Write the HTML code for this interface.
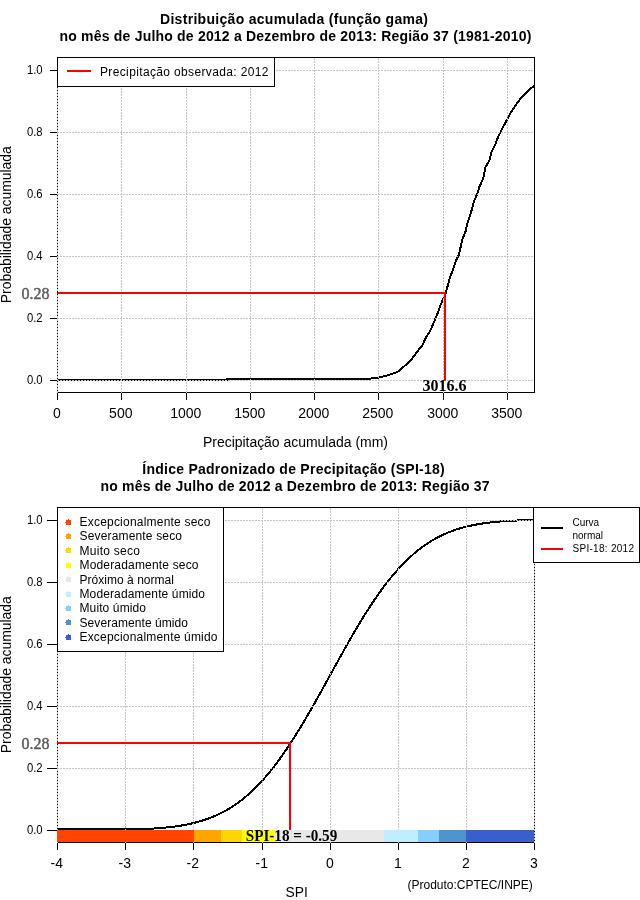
<!DOCTYPE html>
<html lang="pt"><head><meta charset="utf-8"><title>SPI-18</title>
<style>
html,body{margin:0;padding:0;background:#fff;}
svg{display:block;}
text{font-family:"Liberation Sans",sans-serif;fill:#000;}
.b{font-weight:bold;}
.s{font-family:"Liberation Serif",serif;font-weight:bold;}
.ln{shape-rendering:crispEdges;fill:none;}
</style></head><body>
<svg width="640" height="900" viewBox="0 0 640 900">
<rect x="0" y="0" width="640" height="900" fill="#fff"/>
<polyline class="ln" points="57.0,380.0 227.0,380.0 227.0,379.0 360.0,379.0 371.2,378.5 378.5,377.5 386.9,375.6 397.5,371.9 403.1,367.2 410.0,361.2 415.6,353.8 422.5,345.0 426.2,336.9 430.0,331.2 435.0,319.7 438.5,311.2 439.4,308.1 443.1,298.8 445.9,292.5 450.0,277.5 453.5,268.1 456.2,260.0 459.0,254.8 460.2,248.8 462.2,240.0 465.6,231.2 466.9,225.0 470.6,213.8 473.8,201.9 477.2,194.1 479.4,186.9 483.1,178.8 485.6,166.9 489.8,159.7 491.2,152.5 495.6,143.8 498.1,136.9 500.6,131.9 503.1,126.9 507.5,118.8 510.0,113.8 515.0,106.2 521.9,96.9 527.5,91.2 534.4,85.6" stroke="#000" stroke-width="2" stroke-linejoin="round"/>
<rect class="ln" x="57.5" y="57.5" width="477" height="335" stroke="#000" stroke-width="1"/>
<path class="ln" d="M57.5,392v8M121.5,392v8M186.5,392v8M250.5,392v8M314.5,392v8M378.5,392v8M443.5,392v8M507.5,392v8" stroke="#000" stroke-width="1"/>
<path class="ln" d="M50,380.5H58M50,318.5H58M50,256.5H58M50,194.5H58M50,132.5H58M50,70.5H58" stroke="#000" stroke-width="1"/>
<path class="ln" d="M57.5,393V58M121.5,393V58M186.5,393V58M250.5,393V58M314.5,393V58M378.5,393V58M443.5,393V58M507.5,393V58M57,380.5H534M57,318.5H534M57,256.5H534M57,194.5H534M57,132.5H534M57,70.5H534" stroke="#c4c4c4" stroke-width="1" stroke-dasharray="2 1"/>
<text x="56.8" y="417.5" font-size="14" text-anchor="middle">0</text>
<text x="120.8" y="417.5" font-size="14" text-anchor="middle">500</text>
<text x="185.8" y="417.5" font-size="14" text-anchor="middle">1000</text>
<text x="249.8" y="417.5" font-size="14" text-anchor="middle">1500</text>
<text x="313.8" y="417.5" font-size="14" text-anchor="middle">2000</text>
<text x="377.8" y="417.5" font-size="14" text-anchor="middle">2500</text>
<text x="442.8" y="417.5" font-size="14" text-anchor="middle">3000</text>
<text x="506.8" y="417.5" font-size="14" text-anchor="middle">3500</text>
<text x="42.6" y="383.5" font-size="12" text-anchor="end" textLength="15.7" lengthAdjust="spacingAndGlyphs">0.0</text>
<text x="42.6" y="321.5" font-size="12" text-anchor="end" textLength="15.7" lengthAdjust="spacingAndGlyphs">0.2</text>
<text x="42.6" y="259.5" font-size="12" text-anchor="end" textLength="15.7" lengthAdjust="spacingAndGlyphs">0.4</text>
<text x="42.6" y="197.5" font-size="12" text-anchor="end" textLength="15.7" lengthAdjust="spacingAndGlyphs">0.6</text>
<text x="42.6" y="135.5" font-size="12" text-anchor="end" textLength="15.7" lengthAdjust="spacingAndGlyphs">0.8</text>
<text x="42.6" y="73.5" font-size="12" text-anchor="end" textLength="15.7" lengthAdjust="spacingAndGlyphs">1.0</text>
<text transform="translate(11,224.7) rotate(-90)" font-size="14" text-anchor="middle" textLength="157" lengthAdjust="spacingAndGlyphs">Probabilidade acumulada</text>
<path class="ln" d="M57,293H446M445,292V381" stroke="#f00" stroke-width="2"/>
<text class="s" x="49.5" y="299" font-size="16" text-anchor="end" textLength="28" lengthAdjust="spacingAndGlyphs" style="fill:#5a5a5a;font-weight:normal;stroke:#5a5a5a;stroke-width:0.45">0.28</text>
<text class="s" x="444.5" y="391" font-size="16" text-anchor="middle" textLength="44" lengthAdjust="spacingAndGlyphs">3016.6</text>
<rect class="ln" x="57.5" y="57.5" width="217" height="29" style="fill:#fff" stroke="#000"/>
<path class="ln" d="M67,71H91" stroke="#f00" stroke-width="2"/>
<text x="100" y="76" font-size="12" textLength="168.5" lengthAdjust="spacing">Precipitação observada: 2012</text>
<text class="b" x="294" y="24" font-size="14" text-anchor="middle" textLength="268" lengthAdjust="spacing">Distribuição acumulada (função gama)</text>
<text class="b" x="295.5" y="41" font-size="14" text-anchor="middle" textLength="472" lengthAdjust="spacing">no mês de Julho de 2012 a Dezembro de 2013: Região 37 (1981-2010)</text>
<text x="295.5" y="447" font-size="14" text-anchor="middle" textLength="185" lengthAdjust="spacing">Precipitação acumulada (mm)</text>
<polyline class="ln" points="57.0,829.0 58.0,829.0 59.0,829.0 60.0,829.0 61.0,829.0 62.0,829.0 63.0,829.0 64.0,829.0 65.0,829.0 66.0,829.0 67.0,829.0 68.0,829.0 69.0,829.0 70.0,829.0 71.0,829.0 72.0,829.0 73.0,829.0 74.0,829.0 75.0,829.0 76.0,829.0 77.0,829.0 78.0,829.0 79.0,829.0 80.0,829.0 81.0,829.0 82.0,829.0 83.0,829.0 84.0,829.0 85.0,829.0 86.0,829.0 87.0,829.0 88.0,829.0 89.0,829.0 90.0,829.0 91.0,829.0 92.0,829.0 93.0,829.0 94.0,829.0 95.0,829.0 96.0,829.0 97.0,829.0 98.0,829.0 99.0,829.0 100.0,829.0 101.0,829.0 102.0,829.0 103.0,829.0 104.0,829.0 105.0,829.0 106.0,829.0 107.0,829.0 108.0,829.0 109.0,829.0 110.0,829.0 111.0,829.0 112.0,829.0 113.0,829.0 114.0,829.0 115.0,829.0 116.0,829.0 117.0,829.0 118.0,829.0 119.0,829.0 120.0,829.0 121.0,829.0 122.0,829.0 123.0,829.0 124.0,829.0 125.0,829.0 126.0,829.0 127.0,829.0 128.0,829.0 129.0,829.0 130.0,829.0 131.0,829.0 132.0,829.0 133.0,829.0 134.0,829.0 135.0,829.0 136.0,829.0 137.0,829.0 138.0,829.0 139.0,829.0 140.0,829.0 141.0,829.0 142.0,829.0 143.0,829.0 144.0,829.0 145.0,829.0 146.0,828.9 147.0,828.9 148.0,828.8 149.0,828.8 150.0,828.7 151.0,828.7 152.0,828.6 153.0,828.6 154.0,828.5 155.0,828.4 156.0,828.4 157.0,828.3 158.0,828.2 159.0,828.1 160.0,828.1 161.0,828.0 162.0,827.9 163.0,827.8 164.0,827.7 165.0,827.6 166.0,827.5 167.0,827.4 168.0,827.3 169.0,827.2 170.0,827.1 171.0,827.0 172.0,826.9 173.0,826.7 174.0,826.6 175.0,826.5 176.0,826.3 177.0,826.2 178.0,826.0 179.0,825.9 180.0,825.7 181.0,825.6 182.0,825.4 183.0,825.2 184.0,825.1 185.0,824.9 186.0,824.7 187.0,824.5 188.0,824.3 189.0,824.1 190.0,823.9 191.0,823.6 192.0,823.4 193.0,823.2 194.0,822.9 195.0,822.7 196.0,822.4 197.0,822.2 198.0,821.9 199.0,821.6 200.0,821.3 201.0,821.0 202.0,820.7 203.0,820.4 204.0,820.1 205.0,819.7 206.0,819.4 207.0,819.1 208.0,818.7 209.0,818.3 210.0,818.0 211.0,817.6 212.0,817.2 213.0,816.8 214.0,816.3 215.0,815.9 216.0,815.5 217.0,815.0 218.0,814.6 219.0,814.1 220.0,813.6 221.0,813.1 222.0,812.6 223.0,812.1 224.0,811.5 225.0,811.0 226.0,810.4 227.0,809.9 228.0,809.3 229.0,808.7 230.0,808.1 231.0,807.5 232.0,806.8 233.0,806.2 234.0,805.5 235.0,804.8 236.0,804.2 237.0,803.4 238.0,802.7 239.0,802.0 240.0,801.2 241.0,800.5 242.0,799.7 243.0,798.9 244.0,798.1 245.0,797.3 246.0,796.5 247.0,795.6 248.0,794.7 249.0,793.8 250.0,792.9 251.0,792.0 252.0,791.1 253.0,790.2 254.0,789.2 255.0,788.2 256.0,787.2 257.0,786.2 258.0,785.2 259.0,784.1 260.0,783.1 261.0,782.0 262.0,780.9 263.0,779.8 264.0,778.7 265.0,777.5 266.0,776.4 267.0,775.2 268.0,774.0 269.0,772.8 270.0,771.6 271.0,770.4 272.0,769.1 273.0,767.8 274.0,766.6 275.0,765.3 276.0,763.9 277.0,762.6 278.0,761.3 279.0,759.9 280.0,758.5 281.0,757.1 282.0,755.7 283.0,754.3 284.0,752.9 285.0,751.4 286.0,750.0 287.0,748.5 288.0,747.0 289.0,745.5 290.0,744.0 291.0,742.4 292.0,740.9 293.0,739.3 294.0,737.8 295.0,736.2 296.0,734.6 297.0,733.0 298.0,731.4 299.0,729.7 300.0,728.1 301.0,726.5 302.0,724.8 303.0,723.1 304.0,721.4 305.0,719.8 306.0,718.1 307.0,716.3 308.0,714.6 309.0,712.9 310.0,711.2 311.0,709.4 312.0,707.7 313.0,705.9 314.0,704.2 315.0,702.4 316.0,700.6 317.0,698.8 318.0,697.1 319.0,695.3 320.0,693.5 321.0,691.7 322.0,689.9 323.0,688.1 324.0,686.3 325.0,684.4 326.0,682.6 327.0,680.8 328.0,679.0 329.0,677.2 330.0,675.4 331.0,673.6 332.0,671.7 333.0,669.9 334.0,668.1 335.0,666.3 336.0,664.5 337.0,662.7 338.0,660.9 339.0,659.1 340.0,657.3 341.0,655.5 342.0,653.7 343.0,651.9 344.0,650.1 345.0,648.3 346.0,646.6 347.0,644.8 348.0,643.0 349.0,641.3 350.0,639.5 351.0,637.8 352.0,636.1 353.0,634.3 354.0,632.6 355.0,630.9 356.0,629.2 357.0,627.5 358.0,625.9 359.0,624.2 360.0,622.5 361.0,620.9 362.0,619.2 363.0,617.6 364.0,616.0 365.0,614.4 366.0,612.8 367.0,611.2 368.0,609.7 369.0,608.1 370.0,606.6 371.0,605.0 372.0,603.5 373.0,602.0 374.0,600.5 375.0,599.1 376.0,597.6 377.0,596.2 378.0,594.7 379.0,593.3 380.0,591.9 381.0,590.5 382.0,589.2 383.0,587.8 384.0,586.5 385.0,585.1 386.0,583.8 387.0,582.5 388.0,581.3 389.0,580.0 390.0,578.7 391.0,577.5 392.0,576.3 393.0,575.1 394.0,573.9 395.0,572.8 396.0,571.6 397.0,570.5 398.0,569.3 399.0,568.2 400.0,567.2 401.0,566.1 402.0,565.0 403.0,564.0 404.0,563.0 405.0,562.0 406.0,561.0 407.0,560.0 408.0,559.0 409.0,558.1 410.0,557.2 411.0,556.3 412.0,555.4 413.0,554.5 414.0,553.6 415.0,552.8 416.0,552.0 417.0,551.1 418.0,550.3 419.0,549.5 420.0,548.8 421.0,548.0 422.0,547.3 423.0,546.5 424.0,545.8 425.0,545.1 426.0,544.4 427.0,543.8 428.0,543.1 429.0,542.5 430.0,541.8 431.0,541.2 432.0,540.6 433.0,540.0 434.0,539.4 435.0,538.9 436.0,538.3 437.0,537.8 438.0,537.3 439.0,536.7 440.0,536.2 441.0,535.7 442.0,535.3 443.0,534.8 444.0,534.3 445.0,533.9 446.0,533.4 447.0,533.0 448.0,532.6 449.0,532.2 450.0,531.8 451.0,531.4 452.0,531.0 453.0,530.7 454.0,530.3 455.0,530.0 456.0,529.6 457.0,529.3 458.0,529.0 459.0,528.7 460.0,528.4 461.0,528.1 462.0,527.8 463.0,527.5 464.0,527.3 465.0,527.0 466.0,526.7 467.0,526.5 468.0,526.3 469.0,526.0 470.0,525.8 471.0,525.6 472.0,525.4 473.0,525.2 474.0,525.0 475.0,524.8 476.0,524.6 477.0,524.4 478.0,524.2 479.0,524.0 480.0,523.9 481.0,523.7 482.0,523.6 483.0,523.4 484.0,523.3 485.0,523.1 486.0,523.0 487.0,522.9 488.0,522.7 489.0,522.6 490.0,522.5 491.0,522.4 492.0,522.3 493.0,522.1 494.0,522.0 495.0,521.9 496.0,521.8 497.0,521.8 498.0,521.7 499.0,521.6 500.0,521.5 501.0,521.4 502.0,521.3 503.0,521.3 504.0,521.2 505.0,521.1 506.0,521.1 507.0,521.0 508.0,520.9 509.0,520.9 510.0,520.8 511.0,520.8 512.0,520.7 513.0,520.6 514.0,520.6 515.0,520.6 516.0,520.5 517.0,520.5 518.0,520.4 519.0,520.4 520.0,520.3 521.0,520.3 522.0,520.3 523.0,520.2 524.0,520.2 525.0,520.2 526.0,520.1 527.0,520.1 528.0,520.1 529.0,520.1 530.0,520.0 531.0,520.0 532.0,520.0 533.0,520.0 534.0,519.9" stroke="#000" stroke-width="2" stroke-linejoin="round"/>
<rect class="ln" x="57.5" y="507.5" width="477" height="335" stroke="#000" stroke-width="1"/>
<path class="ln" d="M57.5,842v8M125.5,842v8M193.5,842v8M262.5,842v8M330.5,842v8M398.5,842v8M466.5,842v8M534.5,842v8" stroke="#000" stroke-width="1"/>
<path class="ln" d="M47,830.5H58M47,768.5H58M47,706.5H58M47,644.5H58M47,582.5H58M47,520.5H58" stroke="#000" stroke-width="1"/>
<path class="ln" d="M57.5,843V508M125.5,843V508M193.5,843V508M262.5,843V508M330.5,843V508M398.5,843V508M466.5,843V508M534.5,843V508M57,830.5H534M57,768.5H534M57,706.5H534M57,644.5H534M57,582.5H534M57,520.5H534" stroke="#c4c4c4" stroke-width="1" stroke-dasharray="2 1"/>
<text x="56.8" y="867.5" font-size="14" text-anchor="middle">-4</text>
<text x="124.8" y="867.5" font-size="14" text-anchor="middle">-3</text>
<text x="192.8" y="867.5" font-size="14" text-anchor="middle">-2</text>
<text x="261.8" y="867.5" font-size="14" text-anchor="middle">-1</text>
<text x="329.8" y="867.5" font-size="14" text-anchor="middle">0</text>
<text x="397.8" y="867.5" font-size="14" text-anchor="middle">1</text>
<text x="465.8" y="867.5" font-size="14" text-anchor="middle">2</text>
<text x="533.8" y="867.5" font-size="14" text-anchor="middle">3</text>
<text x="42.6" y="833.5" font-size="12" text-anchor="end" textLength="15.7" lengthAdjust="spacingAndGlyphs">0.0</text>
<text x="42.6" y="771.5" font-size="12" text-anchor="end" textLength="15.7" lengthAdjust="spacingAndGlyphs">0.2</text>
<text x="42.6" y="709.5" font-size="12" text-anchor="end" textLength="15.7" lengthAdjust="spacingAndGlyphs">0.4</text>
<text x="42.6" y="647.5" font-size="12" text-anchor="end" textLength="15.7" lengthAdjust="spacingAndGlyphs">0.6</text>
<text x="42.6" y="585.5" font-size="12" text-anchor="end" textLength="15.7" lengthAdjust="spacingAndGlyphs">0.8</text>
<text x="42.6" y="523.5" font-size="12" text-anchor="end" textLength="15.7" lengthAdjust="spacingAndGlyphs">1.0</text>
<text transform="translate(11,674.7) rotate(-90)" font-size="14" text-anchor="middle" textLength="157" lengthAdjust="spacingAndGlyphs">Probabilidade acumulada</text>
<rect class="ln" x="57" y="830" width="137" height="12" style="fill:#FF4500"/>
<rect class="ln" x="194" y="830" width="27" height="12" style="fill:#FFA500"/>
<rect class="ln" x="221" y="830" width="21" height="12" style="fill:#FFD700"/>
<rect class="ln" x="242" y="830" width="33" height="12" style="fill:#FFFF00"/>
<rect class="ln" x="275" y="830" width="109" height="12" style="fill:#E8E8E8"/>
<rect class="ln" x="384" y="830" width="34" height="12" style="fill:#BFEFFF"/>
<rect class="ln" x="418" y="830" width="21" height="12" style="fill:#87CEFA"/>
<rect class="ln" x="439" y="830" width="27" height="12" style="fill:#4F94CD"/>
<rect class="ln" x="466" y="830" width="68" height="12" style="fill:#3A5FCD"/>
<path class="ln" d="M57,743H291M290,742V830" stroke="#f00" stroke-width="2"/>
<text class="s" x="49.5" y="749" font-size="16" text-anchor="end" textLength="28" lengthAdjust="spacingAndGlyphs" style="fill:#5a5a5a;font-weight:normal;stroke:#5a5a5a;stroke-width:0.45">0.28</text>
<text class="s" x="291.5" y="840.5" font-size="16" text-anchor="middle" textLength="91.5" lengthAdjust="spacingAndGlyphs">SPI-18 = -0.59</text>
<rect class="ln" x="57.5" y="507.5" width="166" height="144" style="fill:#fff" stroke="#000"/>
<path class="ln" d="M66,520h2v-1h1v1h2v5h-5v-2h-1v-1h1z" style="fill:#FF4500"/>
<text x="79.5" y="526.0" font-size="12" textLength="131" lengthAdjust="spacing">Excepcionalmente seco</text>
<path class="ln" d="M66,534h2v-1h1v1h2v5h-5v-2h-1v-1h1z" style="fill:#FFA500"/>
<text x="79.5" y="540.4" font-size="12" textLength="102.5" lengthAdjust="spacing">Severamente seco</text>
<path class="ln" d="M66,548h2v-1h1v1h2v5h-5v-2h-1v-1h1z" style="fill:#FFD700"/>
<text x="79.5" y="554.8" font-size="12" textLength="60.5" lengthAdjust="spacing">Muito seco</text>
<path class="ln" d="M66,563h2v-1h1v1h2v5h-5v-2h-1v-1h1z" style="fill:#FFFF00"/>
<text x="79.5" y="569.2" font-size="12" textLength="119" lengthAdjust="spacing">Moderadamente seco</text>
<path class="ln" d="M66,577h2v-1h1v1h2v5h-5v-2h-1v-1h1z" style="fill:#E8E8E8"/>
<text x="79.5" y="583.6" font-size="12" textLength="94.5" lengthAdjust="spacing">Próximo à normal</text>
<path class="ln" d="M66,592h2v-1h1v1h2v5h-5v-2h-1v-1h1z" style="fill:#BFEFFF"/>
<text x="79.5" y="598.0" font-size="12" textLength="125.5" lengthAdjust="spacing">Moderadamente úmido</text>
<path class="ln" d="M66,606h2v-1h1v1h2v5h-5v-2h-1v-1h1z" style="fill:#87CEFA"/>
<text x="79.5" y="612.4" font-size="12" textLength="66.5" lengthAdjust="spacing">Muito úmido</text>
<path class="ln" d="M66,620h2v-1h1v1h2v5h-5v-2h-1v-1h1z" style="fill:#4F94CD"/>
<text x="79.5" y="626.8" font-size="12" textLength="108.5" lengthAdjust="spacing">Severamente úmido</text>
<path class="ln" d="M66,635h2v-1h1v1h2v5h-5v-2h-1v-1h1z" style="fill:#3A5FCD"/>
<text x="79.5" y="641.2" font-size="12" textLength="138" lengthAdjust="spacing">Excepcionalmente úmido</text>
<rect class="ln" x="533.5" y="507.5" width="106" height="55" style="fill:#fff" stroke="#000"/>
<path class="ln" d="M541,528H563" stroke="#000" stroke-width="2"/>
<path class="ln" d="M541,549H563" stroke="#f00" stroke-width="2"/>
<text x="572.5" y="526" font-size="10">Curva</text>
<text x="572.5" y="539" font-size="10">normal</text>
<text x="572.5" y="552" font-size="10" textLength="61.5" lengthAdjust="spacing">SPI-18: 2012</text>
<text class="b" x="293.5" y="474" font-size="14" text-anchor="middle" textLength="302.5" lengthAdjust="spacing">Índice Padronizado de Precipitação (SPI-18)</text>
<text class="b" x="295" y="491" font-size="14" text-anchor="middle" textLength="389" lengthAdjust="spacing">no mês de Julho de 2012 a Dezembro de 2013: Região 37</text>
<text x="296.6" y="897" font-size="15" text-anchor="middle" textLength="22.3" lengthAdjust="spacingAndGlyphs">SPI</text>
<text x="407.5" y="889" font-size="12">(Produto:CPTEC/INPE)</text>
</svg></body></html>
